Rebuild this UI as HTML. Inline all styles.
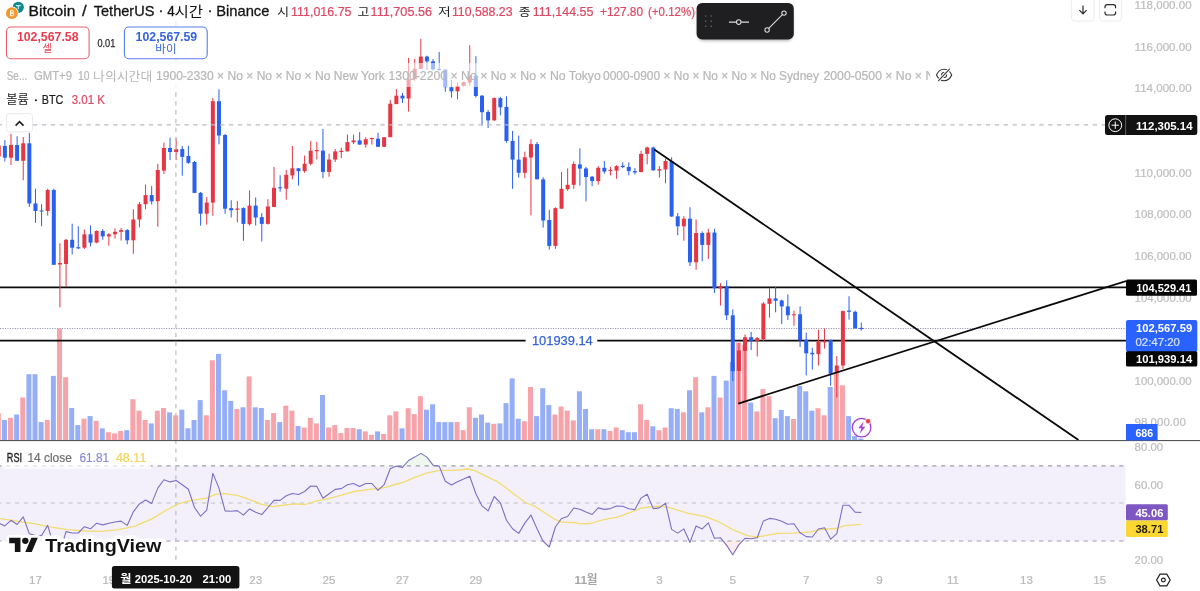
<!DOCTYPE html>
<html lang="ko">
<head>
<meta charset="utf-8">
<title>BTCUSDT 4h - TradingView</title>
<style>
html,body{margin:0;padding:0;background:#fff;}
body{width:1200px;height:591px;overflow:hidden;position:relative;font-family:"Liberation Sans","Noto Sans CJK KR",sans-serif;}
#chart{position:absolute;left:0;top:0;width:1200px;height:591px;display:block;}
#wrap{position:absolute;left:0;top:0;width:1200px;height:591px;will-change:transform;}
#chart text{font-family:"Liberation Sans","Noto Sans CJK KR",sans-serif;white-space:pre;}
</style>
</head>
<body>
<div id="wrap">
<svg id="chart" width="1200" height="591" viewBox="0 0 1200 591">
<defs><filter id="blur" x="-20%" y="-30%" width="140%" height="170%"><feGaussianBlur stdDeviation="1.6"/></filter><filter id="gs" filterUnits="userSpaceOnUse" x="0" y="0" width="1200" height="591"><feOffset dx="0" dy="0"/></filter><clipPath id="legclip"><rect x="150" y="60" width="780.3" height="30"/></clipPath>
<clipPath id="plot"><rect x="0" y="0" width="1126" height="566"/></clipPath></defs>
<rect width="1200" height="591" fill="#fff"/>
<g clip-path="url(#plot)">
<rect x="0" y="466" width="1125.5" height="75" fill="#f3f0fb"/>
<line x1="0" y1="465.8" x2="1125.5" y2="465.8" stroke="#9e9eaa" stroke-width="1.15" stroke-dasharray="4.2 4.705" stroke-dashoffset="-6.1"/>
<line x1="0" y1="503" x2="1125.5" y2="503" stroke="#bfbfca" stroke-width="1.15" stroke-dasharray="4.2 4.705" stroke-dashoffset="-6.1"/>
<line x1="0" y1="541" x2="1125.5" y2="541" stroke="#9e9eaa" stroke-width="1.15" stroke-dasharray="4.2 4.705" stroke-dashoffset="-6.1"/>
<g id="volume">
<rect x="-4.2" y="413.1" width="5" height="27.1" fill="#f7a3aa"/>
<rect x="1.92" y="420" width="5" height="20.2" fill="#95aef6"/>
<rect x="8.04" y="417.8" width="5" height="22.4" fill="#f7a3aa"/>
<rect x="14.15" y="414.5" width="5" height="25.7" fill="#95aef6"/>
<rect x="20.27" y="397.5" width="5" height="42.7" fill="#f7a3aa"/>
<rect x="26.39" y="374.2" width="5" height="66" fill="#95aef6"/>
<rect x="32.51" y="374.2" width="5" height="66" fill="#95aef6"/>
<rect x="38.62" y="422.1" width="5" height="18.1" fill="#95aef6"/>
<rect x="44.74" y="420" width="5" height="20.2" fill="#f7a3aa"/>
<rect x="50.86" y="375.9" width="5" height="64.3" fill="#95aef6"/>
<rect x="56.97" y="328.6" width="5" height="111.6" fill="#f7a3aa"/>
<rect x="63.09" y="377.2" width="5" height="63" fill="#f7a3aa"/>
<rect x="69.21" y="408" width="5" height="32.2" fill="#95aef6"/>
<rect x="75.32" y="425.1" width="5" height="15.1" fill="#95aef6"/>
<rect x="81.44" y="418.7" width="5" height="21.5" fill="#f7a3aa"/>
<rect x="87.56" y="416.1" width="5" height="24.1" fill="#95aef6"/>
<rect x="93.67" y="420.9" width="5" height="19.3" fill="#f7a3aa"/>
<rect x="99.79" y="428.3" width="5" height="11.9" fill="#95aef6"/>
<rect x="105.91" y="432.2" width="5" height="8" fill="#f7a3aa"/>
<rect x="112.03" y="433.4" width="5" height="6.8" fill="#f7a3aa"/>
<rect x="118.14" y="431" width="5" height="9.2" fill="#f7a3aa"/>
<rect x="124.26" y="430.2" width="5" height="10" fill="#95aef6"/>
<rect x="130.38" y="399.2" width="5" height="41" fill="#f7a3aa"/>
<rect x="136.49" y="410.7" width="5" height="29.5" fill="#f7a3aa"/>
<rect x="142.61" y="420" width="5" height="20.2" fill="#f7a3aa"/>
<rect x="148.73" y="423.4" width="5" height="16.8" fill="#95aef6"/>
<rect x="154.84" y="410.7" width="5" height="29.5" fill="#f7a3aa"/>
<rect x="160.96" y="408" width="5" height="32.2" fill="#f7a3aa"/>
<rect x="167.08" y="412.3" width="5" height="27.9" fill="#95aef6"/>
<rect x="173.2" y="415.3" width="5" height="24.9" fill="#f7a3aa"/>
<rect x="179.31" y="409.7" width="5" height="30.5" fill="#95aef6"/>
<rect x="185.43" y="428.3" width="5" height="11.9" fill="#95aef6"/>
<rect x="191.55" y="420" width="5" height="20.2" fill="#95aef6"/>
<rect x="197.66" y="400.1" width="5" height="40.1" fill="#95aef6"/>
<rect x="203.78" y="415.3" width="5" height="24.9" fill="#f7a3aa"/>
<rect x="209.9" y="360.3" width="5" height="79.9" fill="#f7a3aa"/>
<rect x="216.02" y="353.9" width="5" height="86.3" fill="#95aef6"/>
<rect x="222.13" y="390.3" width="5" height="49.9" fill="#95aef6"/>
<rect x="228.25" y="400.9" width="5" height="39.3" fill="#95aef6"/>
<rect x="234.37" y="409" width="5" height="31.2" fill="#f7a3aa"/>
<rect x="240.48" y="407.3" width="5" height="32.9" fill="#95aef6"/>
<rect x="246.6" y="376.4" width="5" height="63.8" fill="#f7a3aa"/>
<rect x="252.72" y="407.3" width="5" height="32.9" fill="#95aef6"/>
<rect x="258.83" y="408" width="5" height="32.2" fill="#95aef6"/>
<rect x="264.95" y="420" width="5" height="20.2" fill="#f7a3aa"/>
<rect x="271.07" y="413.1" width="5" height="27.1" fill="#f7a3aa"/>
<rect x="277.19" y="422.1" width="5" height="18.1" fill="#95aef6"/>
<rect x="283.3" y="405.7" width="5" height="34.5" fill="#f7a3aa"/>
<rect x="289.42" y="410.6" width="5" height="29.6" fill="#f7a3aa"/>
<rect x="295.54" y="426" width="5" height="14.2" fill="#95aef6"/>
<rect x="301.65" y="427.5" width="5" height="12.7" fill="#f7a3aa"/>
<rect x="307.77" y="417.8" width="5" height="22.4" fill="#f7a3aa"/>
<rect x="313.89" y="423.4" width="5" height="16.8" fill="#f7a3aa"/>
<rect x="320" y="395" width="5" height="45.2" fill="#95aef6"/>
<rect x="326.12" y="427.5" width="5" height="12.7" fill="#f7a3aa"/>
<rect x="332.24" y="425.1" width="5" height="15.1" fill="#f7a3aa"/>
<rect x="338.35" y="433.1" width="5" height="7.1" fill="#f7a3aa"/>
<rect x="344.47" y="428" width="5" height="12.2" fill="#f7a3aa"/>
<rect x="350.59" y="428" width="5" height="12.2" fill="#f7a3aa"/>
<rect x="356.71" y="429.2" width="5" height="11" fill="#95aef6"/>
<rect x="362.82" y="431.4" width="5" height="8.8" fill="#f7a3aa"/>
<rect x="368.94" y="434.8" width="5" height="5.4" fill="#f7a3aa"/>
<rect x="375.06" y="431.4" width="5" height="8.8" fill="#95aef6"/>
<rect x="381.17" y="433.9" width="5" height="6.3" fill="#f7a3aa"/>
<rect x="387.29" y="415.3" width="5" height="24.9" fill="#f7a3aa"/>
<rect x="393.41" y="411.4" width="5" height="28.8" fill="#f7a3aa"/>
<rect x="399.53" y="428.3" width="5" height="11.9" fill="#95aef6"/>
<rect x="405.64" y="408.2" width="5" height="32" fill="#f7a3aa"/>
<rect x="411.76" y="414.1" width="5" height="26.1" fill="#f7a3aa"/>
<rect x="417.88" y="396.2" width="5" height="44" fill="#f7a3aa"/>
<rect x="423.99" y="409.7" width="5" height="30.5" fill="#95aef6"/>
<rect x="430.11" y="404.3" width="5" height="35.9" fill="#95aef6"/>
<rect x="436.23" y="422.1" width="5" height="18.1" fill="#95aef6"/>
<rect x="442.34" y="422.1" width="5" height="18.1" fill="#95aef6"/>
<rect x="448.46" y="422.1" width="5" height="18.1" fill="#95aef6"/>
<rect x="454.58" y="422.1" width="5" height="18.1" fill="#f7a3aa"/>
<rect x="460.69" y="430.2" width="5" height="10" fill="#f7a3aa"/>
<rect x="466.81" y="407.3" width="5" height="32.9" fill="#f7a3aa"/>
<rect x="472.93" y="417.8" width="5" height="22.4" fill="#95aef6"/>
<rect x="479.05" y="414.5" width="5" height="25.7" fill="#95aef6"/>
<rect x="485.16" y="422.6" width="5" height="17.6" fill="#95aef6"/>
<rect x="491.28" y="423.8" width="5" height="16.4" fill="#f7a3aa"/>
<rect x="497.4" y="423.4" width="5" height="16.8" fill="#95aef6"/>
<rect x="503.51" y="403.1" width="5" height="37.1" fill="#95aef6"/>
<rect x="509.63" y="378.4" width="5" height="61.8" fill="#95aef6"/>
<rect x="515.75" y="418.7" width="5" height="21.5" fill="#95aef6"/>
<rect x="521.87" y="421.2" width="5" height="19" fill="#f7a3aa"/>
<rect x="527.98" y="387" width="5" height="53.2" fill="#f7a3aa"/>
<rect x="534.1" y="416.1" width="5" height="24.1" fill="#95aef6"/>
<rect x="540.22" y="388.2" width="5" height="52" fill="#95aef6"/>
<rect x="546.33" y="405.1" width="5" height="35.1" fill="#95aef6"/>
<rect x="552.45" y="414.5" width="5" height="25.7" fill="#f7a3aa"/>
<rect x="558.57" y="406.5" width="5" height="33.7" fill="#f7a3aa"/>
<rect x="564.68" y="410.6" width="5" height="29.6" fill="#f7a3aa"/>
<rect x="570.8" y="420.4" width="5" height="19.8" fill="#f7a3aa"/>
<rect x="576.92" y="391.3" width="5" height="48.9" fill="#95aef6"/>
<rect x="583.03" y="409" width="5" height="31.2" fill="#95aef6"/>
<rect x="589.15" y="429.2" width="5" height="11" fill="#95aef6"/>
<rect x="595.27" y="429.2" width="5" height="11" fill="#f7a3aa"/>
<rect x="601.39" y="429.2" width="5" height="11" fill="#95aef6"/>
<rect x="607.5" y="431" width="5" height="9.2" fill="#f7a3aa"/>
<rect x="613.62" y="427.5" width="5" height="12.7" fill="#f7a3aa"/>
<rect x="619.74" y="430.2" width="5" height="10" fill="#95aef6"/>
<rect x="625.85" y="432.2" width="5" height="8" fill="#95aef6"/>
<rect x="631.97" y="432.2" width="5" height="8" fill="#95aef6"/>
<rect x="638.09" y="404.3" width="5" height="35.9" fill="#f7a3aa"/>
<rect x="644.2" y="420" width="5" height="20.2" fill="#f7a3aa"/>
<rect x="650.32" y="426.3" width="5" height="13.9" fill="#95aef6"/>
<rect x="656.44" y="430.2" width="5" height="10" fill="#f7a3aa"/>
<rect x="662.56" y="427.5" width="5" height="12.7" fill="#f7a3aa"/>
<rect x="668.67" y="408.2" width="5" height="32" fill="#95aef6"/>
<rect x="674.79" y="408.9" width="5" height="31.3" fill="#95aef6"/>
<rect x="680.91" y="412.3" width="5" height="27.9" fill="#f7a3aa"/>
<rect x="687.02" y="390.3" width="5" height="49.9" fill="#95aef6"/>
<rect x="693.14" y="377.2" width="5" height="63" fill="#f7a3aa"/>
<rect x="699.26" y="412.3" width="5" height="27.9" fill="#95aef6"/>
<rect x="705.38" y="407.3" width="5" height="32.9" fill="#f7a3aa"/>
<rect x="711.49" y="375.9" width="5" height="64.3" fill="#95aef6"/>
<rect x="717.61" y="397.5" width="5" height="42.7" fill="#f7a3aa"/>
<rect x="723.73" y="380.6" width="5" height="59.6" fill="#95aef6"/>
<rect x="729.84" y="362" width="5" height="78.2" fill="#95aef6"/>
<rect x="735.96" y="342.5" width="5" height="97.7" fill="#f7a3aa"/>
<rect x="742.08" y="345" width="5" height="95.2" fill="#f7a3aa"/>
<rect x="748.19" y="402.6" width="5" height="37.6" fill="#95aef6"/>
<rect x="754.31" y="411.4" width="5" height="28.8" fill="#f7a3aa"/>
<rect x="760.43" y="389.1" width="5" height="51.1" fill="#f7a3aa"/>
<rect x="766.54" y="396.2" width="5" height="44" fill="#f7a3aa"/>
<rect x="772.66" y="418.2" width="5" height="22" fill="#95aef6"/>
<rect x="778.78" y="409.9" width="5" height="30.3" fill="#95aef6"/>
<rect x="784.9" y="416.1" width="5" height="24.1" fill="#95aef6"/>
<rect x="791.01" y="419" width="5" height="21.2" fill="#f7a3aa"/>
<rect x="797.13" y="386" width="5" height="54.2" fill="#95aef6"/>
<rect x="803.25" y="391.3" width="5" height="48.9" fill="#95aef6"/>
<rect x="809.36" y="410.7" width="5" height="29.5" fill="#95aef6"/>
<rect x="815.48" y="408.2" width="5" height="32" fill="#f7a3aa"/>
<rect x="821.6" y="415.3" width="5" height="24.9" fill="#f7a3aa"/>
<rect x="827.71" y="387" width="5" height="53.2" fill="#95aef6"/>
<rect x="833.83" y="372" width="5" height="68.2" fill="#f7a3aa"/>
<rect x="839.95" y="385.3" width="5" height="54.9" fill="#f7a3aa"/>
<rect x="846.07" y="416.1" width="5" height="24.1" fill="#95aef6"/>
<rect x="852.18" y="436" width="5" height="4.2" fill="#95aef6"/>
<rect x="858.3" y="438.5" width="5" height="1.7" fill="#95aef6"/>
</g>
<g stroke="#0a0a0a" stroke-width="1.8" fill="none">
<line x1="0" y1="287.3" x2="1126" y2="287.3"/>
<line x1="0" y1="340.6" x2="525.6" y2="340.6"/>
<line x1="597.3" y1="340.6" x2="1126" y2="340.6"/>
</g>
<line x1="0" y1="328.5" x2="1126" y2="328.5" stroke="#8e92a9" stroke-width="1" stroke-dasharray="1.1 1.38"/>
<g id="candles">
<rect x="-1.75" y="140" width="1" height="20" fill="#e53644"/>
<rect x="-3.25" y="145.5" width="4" height="11" fill="#e53644"/>
<rect x="4.37" y="140.1" width="1" height="21.5" fill="#2a60ee"/>
<rect x="2.87" y="145.9" width="4" height="11.8" fill="#2a60ee"/>
<rect x="10.49" y="133.7" width="1" height="31.3" fill="#e53644"/>
<rect x="8.99" y="145" width="4" height="12.7" fill="#e53644"/>
<rect x="16.6" y="136.2" width="1" height="24.6" fill="#2a60ee"/>
<rect x="15.1" y="145" width="4" height="15.8" fill="#2a60ee"/>
<rect x="22.72" y="137" width="1" height="43.2" fill="#e53644"/>
<rect x="21.22" y="143.3" width="4" height="17.5" fill="#e53644"/>
<rect x="28.84" y="132.8" width="1" height="74" fill="#2a60ee"/>
<rect x="27.34" y="143.3" width="4" height="60.2" fill="#2a60ee"/>
<rect x="34.96" y="188.7" width="1" height="34.1" fill="#2a60ee"/>
<rect x="33.46" y="203.4" width="4" height="7.6" fill="#2a60ee"/>
<rect x="41.07" y="204.2" width="1" height="22" fill="#2a60ee"/>
<rect x="39.57" y="210.5" width="4" height="1" fill="#2a60ee"/>
<rect x="47.19" y="188.7" width="1" height="26.9" fill="#e53644"/>
<rect x="45.69" y="190" width="4" height="21" fill="#e53644"/>
<rect x="53.31" y="188.7" width="1" height="76.1" fill="#2a60ee"/>
<rect x="51.81" y="190" width="4" height="74.8" fill="#2a60ee"/>
<rect x="59.42" y="243.1" width="1" height="64.3" fill="#e53644"/>
<rect x="57.92" y="263" width="4" height="1.5" fill="#e53644"/>
<rect x="65.54" y="239" width="1" height="47.8" fill="#e53644"/>
<rect x="64.04" y="239.8" width="4" height="24.2" fill="#e53644"/>
<rect x="71.66" y="223.7" width="1" height="30.8" fill="#2a60ee"/>
<rect x="70.16" y="239.8" width="4" height="7.9" fill="#2a60ee"/>
<rect x="77.77" y="226.2" width="1" height="22.8" fill="#2a60ee"/>
<rect x="76.27" y="247.2" width="4" height="1.2" fill="#2a60ee"/>
<rect x="83.89" y="229.6" width="1" height="19.4" fill="#e53644"/>
<rect x="82.39" y="234.3" width="4" height="13.4" fill="#e53644"/>
<rect x="90.01" y="225.4" width="1" height="21.1" fill="#2a60ee"/>
<rect x="88.51" y="234.3" width="4" height="8.3" fill="#2a60ee"/>
<rect x="96.12" y="230.4" width="1" height="12.8" fill="#e53644"/>
<rect x="94.62" y="231" width="4" height="11.6" fill="#e53644"/>
<rect x="102.24" y="229.1" width="1" height="10.7" fill="#2a60ee"/>
<rect x="100.74" y="231" width="4" height="5.4" fill="#2a60ee"/>
<rect x="108.36" y="233" width="1" height="12.7" fill="#e53644"/>
<rect x="106.86" y="234.3" width="4" height="2.1" fill="#e53644"/>
<rect x="114.48" y="228.4" width="1" height="10.2" fill="#e53644"/>
<rect x="112.98" y="231.8" width="4" height="2.5" fill="#e53644"/>
<rect x="120.59" y="228" width="1" height="12.6" fill="#e53644"/>
<rect x="119.09" y="230.1" width="4" height="1.7" fill="#e53644"/>
<rect x="126.71" y="229.1" width="1" height="15.2" fill="#2a60ee"/>
<rect x="125.21" y="230.1" width="4" height="10.2" fill="#2a60ee"/>
<rect x="132.83" y="209.3" width="1" height="44.5" fill="#e53644"/>
<rect x="131.33" y="219.5" width="4" height="20.8" fill="#e53644"/>
<rect x="138.94" y="202" width="1" height="25.4" fill="#e53644"/>
<rect x="137.44" y="204.2" width="4" height="15.3" fill="#e53644"/>
<rect x="145.06" y="184.5" width="1" height="24.8" fill="#e53644"/>
<rect x="143.56" y="195.1" width="4" height="9.1" fill="#e53644"/>
<rect x="151.18" y="186.1" width="1" height="18.4" fill="#2a60ee"/>
<rect x="149.68" y="195.1" width="4" height="6.3" fill="#2a60ee"/>
<rect x="157.29" y="163.8" width="1" height="62.9" fill="#e53644"/>
<rect x="155.79" y="170" width="4" height="31.2" fill="#e53644"/>
<rect x="163.41" y="142.7" width="1" height="31.3" fill="#e53644"/>
<rect x="161.91" y="148" width="4" height="22.6" fill="#e53644"/>
<rect x="169.53" y="137.6" width="1" height="22.4" fill="#2a60ee"/>
<rect x="168.03" y="148" width="4" height="4" fill="#2a60ee"/>
<rect x="175.65" y="138" width="1" height="22" fill="#e53644"/>
<rect x="174.15" y="149" width="4" height="3" fill="#e53644"/>
<rect x="181.76" y="145.9" width="1" height="29.8" fill="#2a60ee"/>
<rect x="180.26" y="149" width="4" height="7.9" fill="#2a60ee"/>
<rect x="187.88" y="145.9" width="1" height="17.9" fill="#2a60ee"/>
<rect x="186.38" y="156" width="4" height="6.8" fill="#2a60ee"/>
<rect x="194" y="161" width="1" height="31.9" fill="#2a60ee"/>
<rect x="192.5" y="162" width="4" height="30.9" fill="#2a60ee"/>
<rect x="200.11" y="192" width="1" height="33.6" fill="#2a60ee"/>
<rect x="198.61" y="192.9" width="4" height="20.8" fill="#2a60ee"/>
<rect x="206.23" y="197.1" width="1" height="27.5" fill="#e53644"/>
<rect x="204.73" y="202.6" width="4" height="11.1" fill="#e53644"/>
<rect x="212.35" y="97.8" width="1" height="118" fill="#e53644"/>
<rect x="210.85" y="101.2" width="4" height="101.4" fill="#e53644"/>
<rect x="218.47" y="89.3" width="1" height="55" fill="#2a60ee"/>
<rect x="216.97" y="101.2" width="4" height="34.3" fill="#2a60ee"/>
<rect x="224.58" y="134" width="1" height="79.7" fill="#2a60ee"/>
<rect x="223.08" y="135" width="4" height="73.7" fill="#2a60ee"/>
<rect x="230.7" y="200.2" width="1" height="17.3" fill="#2a60ee"/>
<rect x="229.2" y="208.1" width="4" height="2.2" fill="#2a60ee"/>
<rect x="236.82" y="200.9" width="1" height="21.6" fill="#e53644"/>
<rect x="235.32" y="208.5" width="4" height="1.3" fill="#e53644"/>
<rect x="242.93" y="207.3" width="1" height="33.5" fill="#2a60ee"/>
<rect x="241.43" y="208.1" width="4" height="15.8" fill="#2a60ee"/>
<rect x="249.05" y="190.4" width="1" height="35" fill="#e53644"/>
<rect x="247.55" y="205.6" width="4" height="18.6" fill="#e53644"/>
<rect x="255.17" y="197.5" width="1" height="28.1" fill="#2a60ee"/>
<rect x="253.67" y="205.6" width="4" height="11.9" fill="#2a60ee"/>
<rect x="261.28" y="213.2" width="1" height="28.3" fill="#2a60ee"/>
<rect x="259.78" y="217.1" width="4" height="6.8" fill="#2a60ee"/>
<rect x="267.4" y="199.2" width="1" height="25.4" fill="#e53644"/>
<rect x="265.9" y="206.5" width="4" height="17.4" fill="#e53644"/>
<rect x="273.52" y="167" width="1" height="40" fill="#e53644"/>
<rect x="272.02" y="187.8" width="4" height="19.2" fill="#e53644"/>
<rect x="279.63" y="175.2" width="1" height="16.5" fill="#2a60ee"/>
<rect x="278.13" y="187.3" width="4" height="1.1" fill="#2a60ee"/>
<rect x="285.75" y="170" width="1" height="29.7" fill="#e53644"/>
<rect x="284.25" y="174.8" width="4" height="13.9" fill="#e53644"/>
<rect x="291.87" y="146" width="1" height="33.4" fill="#e53644"/>
<rect x="290.37" y="168.3" width="4" height="7.1" fill="#e53644"/>
<rect x="297.99" y="168" width="1" height="17.6" fill="#2a60ee"/>
<rect x="296.49" y="168.3" width="4" height="2.9" fill="#2a60ee"/>
<rect x="304.1" y="155.6" width="1" height="17.2" fill="#e53644"/>
<rect x="302.6" y="163.8" width="4" height="7.4" fill="#e53644"/>
<rect x="310.22" y="140.9" width="1" height="24.5" fill="#e53644"/>
<rect x="308.72" y="150.7" width="4" height="13.1" fill="#e53644"/>
<rect x="316.34" y="141.8" width="1" height="17.7" fill="#e53644"/>
<rect x="314.84" y="150" width="4" height="1.2" fill="#e53644"/>
<rect x="322.45" y="129" width="1" height="49.3" fill="#2a60ee"/>
<rect x="320.95" y="150.7" width="4" height="21.2" fill="#2a60ee"/>
<rect x="328.57" y="153.6" width="1" height="23.2" fill="#e53644"/>
<rect x="327.07" y="159.5" width="4" height="12.4" fill="#e53644"/>
<rect x="334.69" y="149" width="1" height="13" fill="#e53644"/>
<rect x="333.19" y="151.4" width="4" height="8.1" fill="#e53644"/>
<rect x="340.8" y="147.7" width="1" height="10.5" fill="#e53644"/>
<rect x="339.3" y="150.8" width="4" height="1.2" fill="#e53644"/>
<rect x="346.92" y="134.5" width="1" height="16.9" fill="#e53644"/>
<rect x="345.42" y="142.1" width="4" height="9.3" fill="#e53644"/>
<rect x="353.04" y="134.5" width="1" height="9.5" fill="#e53644"/>
<rect x="351.54" y="140.4" width="4" height="1.9" fill="#e53644"/>
<rect x="359.16" y="132.1" width="1" height="12.5" fill="#2a60ee"/>
<rect x="357.66" y="140.4" width="4" height="4.2" fill="#2a60ee"/>
<rect x="365.27" y="137.2" width="1" height="10.5" fill="#e53644"/>
<rect x="363.77" y="139.2" width="4" height="5.4" fill="#e53644"/>
<rect x="371.39" y="137.9" width="1" height="6.7" fill="#e53644"/>
<rect x="369.89" y="137.95" width="4" height="1.2" fill="#e53644"/>
<rect x="377.51" y="132.8" width="1" height="14" fill="#2a60ee"/>
<rect x="376.01" y="138.7" width="4" height="8.1" fill="#2a60ee"/>
<rect x="383.62" y="137.2" width="1" height="9.6" fill="#e53644"/>
<rect x="382.12" y="137.2" width="4" height="9.6" fill="#e53644"/>
<rect x="389.74" y="100" width="1" height="37.2" fill="#e53644"/>
<rect x="388.24" y="103.7" width="4" height="33.5" fill="#e53644"/>
<rect x="395.86" y="89.2" width="1" height="14.9" fill="#e53644"/>
<rect x="394.36" y="95.7" width="4" height="8.4" fill="#e53644"/>
<rect x="401.98" y="93.1" width="1" height="10" fill="#2a60ee"/>
<rect x="400.48" y="95.7" width="4" height="2.8" fill="#2a60ee"/>
<rect x="408.09" y="57.9" width="1" height="53.7" fill="#e53644"/>
<rect x="406.59" y="79.1" width="4" height="19.4" fill="#e53644"/>
<rect x="414.21" y="59.1" width="1" height="21.7" fill="#e53644"/>
<rect x="412.71" y="68.9" width="4" height="10.2" fill="#e53644"/>
<rect x="420.33" y="38.8" width="1" height="30.1" fill="#e53644"/>
<rect x="418.83" y="56.6" width="4" height="12.3" fill="#e53644"/>
<rect x="426.44" y="55.7" width="1" height="14.1" fill="#2a60ee"/>
<rect x="424.94" y="56.6" width="4" height="4.7" fill="#2a60ee"/>
<rect x="432.56" y="59.1" width="1" height="11.5" fill="#2a60ee"/>
<rect x="431.06" y="61.3" width="4" height="8" fill="#2a60ee"/>
<rect x="438.68" y="52" width="1" height="18.6" fill="#2a60ee"/>
<rect x="437.18" y="69" width="4" height="1" fill="#2a60ee"/>
<rect x="444.79" y="69" width="1" height="22.8" fill="#2a60ee"/>
<rect x="443.29" y="69.8" width="4" height="17.4" fill="#2a60ee"/>
<rect x="450.91" y="79.9" width="1" height="17.8" fill="#2a60ee"/>
<rect x="449.41" y="87.2" width="4" height="4.1" fill="#2a60ee"/>
<rect x="457.03" y="82.5" width="1" height="16.9" fill="#e53644"/>
<rect x="455.53" y="85.8" width="4" height="5.5" fill="#e53644"/>
<rect x="463.14" y="81.5" width="1" height="5" fill="#e53644"/>
<rect x="461.64" y="82.1" width="4" height="3.7" fill="#e53644"/>
<rect x="469.26" y="45.2" width="1" height="40.6" fill="#e53644"/>
<rect x="467.76" y="75.7" width="4" height="6.8" fill="#e53644"/>
<rect x="475.38" y="56.2" width="1" height="41.5" fill="#2a60ee"/>
<rect x="473.88" y="75.7" width="4" height="20.3" fill="#2a60ee"/>
<rect x="481.5" y="95" width="1" height="30.5" fill="#2a60ee"/>
<rect x="480" y="95.7" width="4" height="16.5" fill="#2a60ee"/>
<rect x="487.61" y="110" width="1" height="18" fill="#2a60ee"/>
<rect x="486.11" y="112" width="4" height="8.4" fill="#2a60ee"/>
<rect x="493.73" y="97.5" width="1" height="23.3" fill="#e53644"/>
<rect x="492.23" y="98.1" width="4" height="22.3" fill="#e53644"/>
<rect x="499.85" y="96.8" width="1" height="18.5" fill="#2a60ee"/>
<rect x="498.35" y="98.1" width="4" height="9.2" fill="#2a60ee"/>
<rect x="505.96" y="96.3" width="1" height="46.4" fill="#2a60ee"/>
<rect x="504.46" y="106.9" width="4" height="34.1" fill="#2a60ee"/>
<rect x="512.08" y="130.9" width="1" height="57.9" fill="#2a60ee"/>
<rect x="510.58" y="141" width="4" height="18.6" fill="#2a60ee"/>
<rect x="518.2" y="135.6" width="1" height="42" fill="#2a60ee"/>
<rect x="516.7" y="159.6" width="4" height="13.2" fill="#2a60ee"/>
<rect x="524.32" y="151.7" width="1" height="26.5" fill="#e53644"/>
<rect x="522.82" y="157.3" width="4" height="15.5" fill="#e53644"/>
<rect x="530.43" y="139.3" width="1" height="76.1" fill="#e53644"/>
<rect x="528.93" y="144.1" width="4" height="13.4" fill="#e53644"/>
<rect x="536.55" y="142" width="1" height="37.3" fill="#2a60ee"/>
<rect x="535.05" y="144.1" width="4" height="35.2" fill="#2a60ee"/>
<rect x="542.67" y="177.2" width="1" height="50.4" fill="#2a60ee"/>
<rect x="541.17" y="179.4" width="4" height="41.1" fill="#2a60ee"/>
<rect x="548.78" y="209.8" width="1" height="39.8" fill="#2a60ee"/>
<rect x="547.28" y="220" width="4" height="25.9" fill="#2a60ee"/>
<rect x="554.9" y="207.3" width="1" height="41.5" fill="#e53644"/>
<rect x="553.4" y="208.1" width="4" height="37.8" fill="#e53644"/>
<rect x="561.02" y="171.9" width="1" height="36.8" fill="#e53644"/>
<rect x="559.52" y="188.8" width="4" height="19.9" fill="#e53644"/>
<rect x="567.13" y="168.5" width="1" height="22.1" fill="#e53644"/>
<rect x="565.63" y="184.8" width="4" height="4.4" fill="#e53644"/>
<rect x="573.25" y="161.5" width="1" height="27.3" fill="#e53644"/>
<rect x="571.75" y="164" width="4" height="20.8" fill="#e53644"/>
<rect x="579.37" y="148.3" width="1" height="37.2" fill="#2a60ee"/>
<rect x="577.87" y="164.4" width="4" height="4.2" fill="#2a60ee"/>
<rect x="585.49" y="167" width="1" height="34.4" fill="#2a60ee"/>
<rect x="583.99" y="168.5" width="4" height="8.5" fill="#2a60ee"/>
<rect x="591.6" y="176" width="1" height="10.3" fill="#2a60ee"/>
<rect x="590.1" y="176.7" width="4" height="4.3" fill="#2a60ee"/>
<rect x="597.72" y="166" width="1" height="18.7" fill="#e53644"/>
<rect x="596.22" y="167.8" width="4" height="13.2" fill="#e53644"/>
<rect x="603.84" y="161" width="1" height="12.7" fill="#2a60ee"/>
<rect x="602.34" y="167.8" width="4" height="3.7" fill="#2a60ee"/>
<rect x="609.95" y="166.9" width="1" height="8.5" fill="#e53644"/>
<rect x="608.45" y="170" width="4" height="1" fill="#e53644"/>
<rect x="616.07" y="165.2" width="1" height="13.6" fill="#e53644"/>
<rect x="614.57" y="166.1" width="4" height="4.5" fill="#e53644"/>
<rect x="622.19" y="162.3" width="1" height="5.8" fill="#2a60ee"/>
<rect x="620.69" y="165.85" width="4" height="1.2" fill="#2a60ee"/>
<rect x="628.3" y="162.3" width="1" height="13.1" fill="#2a60ee"/>
<rect x="626.8" y="166.9" width="4" height="4.2" fill="#2a60ee"/>
<rect x="634.42" y="168.1" width="1" height="6.4" fill="#2a60ee"/>
<rect x="632.92" y="171.1" width="4" height="1.4" fill="#2a60ee"/>
<rect x="640.54" y="150.8" width="1" height="21.7" fill="#e53644"/>
<rect x="639.04" y="153.9" width="4" height="18.1" fill="#e53644"/>
<rect x="646.65" y="146.6" width="1" height="17.8" fill="#e53644"/>
<rect x="645.15" y="147.5" width="4" height="6.4" fill="#e53644"/>
<rect x="652.77" y="146.6" width="1" height="24.2" fill="#2a60ee"/>
<rect x="651.27" y="147.5" width="4" height="22.8" fill="#2a60ee"/>
<rect x="658.89" y="166.1" width="1" height="11.5" fill="#e53644"/>
<rect x="657.39" y="169.1" width="4" height="1.4" fill="#e53644"/>
<rect x="665.01" y="158.5" width="1" height="24.8" fill="#e53644"/>
<rect x="663.51" y="161" width="4" height="8.5" fill="#e53644"/>
<rect x="671.12" y="157.3" width="1" height="59.6" fill="#2a60ee"/>
<rect x="669.62" y="161" width="4" height="55.5" fill="#2a60ee"/>
<rect x="677.24" y="213" width="1" height="22.2" fill="#2a60ee"/>
<rect x="675.74" y="216.3" width="4" height="10" fill="#2a60ee"/>
<rect x="683.36" y="216.2" width="1" height="24.5" fill="#e53644"/>
<rect x="681.86" y="218.7" width="4" height="7.6" fill="#e53644"/>
<rect x="689.47" y="207.2" width="1" height="58.8" fill="#2a60ee"/>
<rect x="687.97" y="218.7" width="4" height="43.6" fill="#2a60ee"/>
<rect x="695.59" y="219.5" width="1" height="50.3" fill="#e53644"/>
<rect x="694.09" y="233" width="4" height="29.3" fill="#e53644"/>
<rect x="701.71" y="231.4" width="1" height="29.9" fill="#2a60ee"/>
<rect x="700.21" y="233" width="4" height="11.9" fill="#2a60ee"/>
<rect x="707.83" y="228.8" width="1" height="30.2" fill="#e53644"/>
<rect x="706.33" y="232.6" width="4" height="12.3" fill="#e53644"/>
<rect x="713.94" y="228.8" width="1" height="64.2" fill="#2a60ee"/>
<rect x="712.44" y="232.6" width="4" height="55.6" fill="#2a60ee"/>
<rect x="720.06" y="283.1" width="1" height="22.4" fill="#e53644"/>
<rect x="718.56" y="286" width="4" height="2.5" fill="#e53644"/>
<rect x="726.18" y="280.3" width="1" height="39.7" fill="#2a60ee"/>
<rect x="724.68" y="286.2" width="4" height="29.1" fill="#2a60ee"/>
<rect x="732.29" y="309.3" width="1" height="71.7" fill="#2a60ee"/>
<rect x="730.79" y="315.3" width="4" height="55.9" fill="#2a60ee"/>
<rect x="738.41" y="343" width="1" height="60.7" fill="#e53644"/>
<rect x="736.91" y="350.4" width="4" height="20.6" fill="#e53644"/>
<rect x="744.53" y="334.5" width="1" height="67.5" fill="#e53644"/>
<rect x="743.03" y="337.2" width="4" height="13.8" fill="#e53644"/>
<rect x="750.64" y="332" width="1" height="18.1" fill="#2a60ee"/>
<rect x="749.14" y="337.2" width="4" height="3.8" fill="#2a60ee"/>
<rect x="756.76" y="337" width="1" height="19.5" fill="#e53644"/>
<rect x="755.26" y="338.1" width="4" height="2.9" fill="#e53644"/>
<rect x="762.88" y="302.1" width="1" height="38.9" fill="#e53644"/>
<rect x="761.38" y="303.5" width="4" height="35.9" fill="#e53644"/>
<rect x="769" y="287.8" width="1" height="29.9" fill="#e53644"/>
<rect x="767.5" y="298.4" width="4" height="5.4" fill="#e53644"/>
<rect x="775.11" y="286.9" width="1" height="25.4" fill="#2a60ee"/>
<rect x="773.61" y="298.4" width="4" height="2.4" fill="#2a60ee"/>
<rect x="781.23" y="299.6" width="1" height="24.5" fill="#2a60ee"/>
<rect x="779.73" y="300.5" width="4" height="5.9" fill="#2a60ee"/>
<rect x="787.35" y="294.5" width="1" height="25.5" fill="#2a60ee"/>
<rect x="785.85" y="306.4" width="4" height="8.9" fill="#2a60ee"/>
<rect x="793.46" y="310.6" width="1" height="15.2" fill="#e53644"/>
<rect x="791.96" y="314.3" width="4" height="1" fill="#e53644"/>
<rect x="799.58" y="306.4" width="1" height="40.5" fill="#2a60ee"/>
<rect x="798.08" y="314.3" width="4" height="25.9" fill="#2a60ee"/>
<rect x="805.7" y="332.6" width="1" height="42.9" fill="#2a60ee"/>
<rect x="804.2" y="339.7" width="4" height="13.6" fill="#2a60ee"/>
<rect x="811.81" y="347.7" width="1" height="21.9" fill="#2a60ee"/>
<rect x="810.31" y="352.8" width="4" height="1.5" fill="#2a60ee"/>
<rect x="817.93" y="329.6" width="1" height="35.9" fill="#e53644"/>
<rect x="816.43" y="341.9" width="4" height="12.2" fill="#e53644"/>
<rect x="824.05" y="328.4" width="1" height="20.2" fill="#e53644"/>
<rect x="822.55" y="341" width="4" height="1.4" fill="#e53644"/>
<rect x="830.16" y="339.4" width="1" height="46.3" fill="#2a60ee"/>
<rect x="828.66" y="340.2" width="4" height="33.6" fill="#2a60ee"/>
<rect x="836.28" y="356" width="1" height="41.5" fill="#e53644"/>
<rect x="834.78" y="365.5" width="4" height="7.5" fill="#e53644"/>
<rect x="842.4" y="310.6" width="1" height="58.3" fill="#e53644"/>
<rect x="840.9" y="311.1" width="4" height="54.4" fill="#e53644"/>
<rect x="848.52" y="296.2" width="1" height="23.4" fill="#2a60ee"/>
<rect x="847.02" y="310.6" width="4" height="1.2" fill="#2a60ee"/>
<rect x="854.63" y="310.6" width="1" height="18" fill="#2a60ee"/>
<rect x="853.13" y="311.8" width="4" height="16.6" fill="#2a60ee"/>
<rect x="860.75" y="322.5" width="1" height="8.1" fill="#2a60ee"/>
<rect x="859.25" y="327.85" width="4" height="1.2" fill="#2a60ee"/>
</g>
<g stroke="#0a0a0a" stroke-width="1.8" fill="none" stroke-linecap="butt">
<line x1="654.3" y1="149.5" x2="1078.5" y2="440"/>
<line x1="738.3" y1="403.6" x2="1126" y2="281"/>
</g>
<g stroke="#bbbcc3" stroke-width="1.2" stroke-dasharray="4.4 4.505" fill="none">
<line x1="175.9" y1="89" x2="175.9" y2="561" stroke-dashoffset="-3.25"/>
<line x1="175.9" y1="-1" x2="175.9" y2="89" stroke-opacity="0.3" stroke-dashoffset="-4.2"/>
<line x1="0" y1="124.8" x2="1105" y2="124.8" stroke-dashoffset="-6.3"/>
</g>
<polyline points="-2,518.4 0,518.6 16.9,521.1 33.8,523.7 50.8,527.1 67.7,529.6 84.6,531 101.5,531.3 118.4,529.6 135.4,526.2 152.3,518.6 169.2,508.5 177.7,504.2 186.1,501.7 195,499.8 206.9,498.2 215.4,494.3 223.8,493.7 237.4,495.3 249.2,499.4 261.1,504.1 272.9,506.7 284.8,505 294.9,503.8 305.1,504.5 316.9,500.8 328.7,498.6 342.3,494.8 354.1,491.5 366,489.8 376.1,488.6 385,487.4 391.8,485.5 403.7,482.1 415.5,477.1 427.4,472.8 439.2,470.3 451.1,470.3 459.5,470 468,469 474.8,470.6 484.9,475.7 496.8,481.3 505.2,487.2 515.4,495.3 525.5,502.5 535.7,506.7 545.8,513.5 554.3,519 561,521.9 566.1,522.4 574.6,522.5 580.2,523.8 590.3,523.5 603.8,519.6 617.4,517.2 629.2,512.8 641.1,508.2 649.5,507 661.4,506 671.5,508.2 688.4,513.3 705.4,516.7 718.9,521.8 732.4,529.4 744.3,534.4 748.5,535.8 756.9,537 767.1,535.3 777.2,533.3 794.1,533.1 811.1,531.9 821.2,529.4 836.4,528.5 844.9,525.7 860.8,524.3" fill="none" stroke="#f3dc70" stroke-width="1.3" stroke-linejoin="round"/>
<polyline points="-1.25,523 4.87,525.9 10.99,520.3 17.1,524.5 23.22,516.9 29.34,533.8 35.46,535.5 41.57,535.5 47.69,525.4 53.81,546 59.92,552 66.04,531.6 72.16,533 78.27,533 84.39,526.7 90.51,528.8 96.62,523.2 102.74,524.9 108.86,523.2 114.98,522 121.09,521.1 127.21,525.4 133.33,511.8 139.44,503.9 145.56,500 151.68,503.4 157.79,488.1 163.91,479.7 170.03,481.9 176.15,480.5 182.26,484.8 188.38,489.3 194.5,507.5 200.61,516.2 206.73,510.1 212.85,473.4 218.97,488.1 225.08,510.9 231.2,511.3 237.32,510.6 243.43,515.1 249.55,508.9 255.67,512.3 261.78,514.6 267.9,507.5 274.02,500.4 280.13,500.4 286.25,495.7 292.37,493.5 298.49,494.5 304.6,491.5 310.72,486 316.84,486.4 322.95,498.2 329.07,493.7 335.19,489.4 341.3,488.6 347.42,484.7 353.54,483.5 359.66,486.4 365.77,483.5 371.89,483.5 378.01,490.3 384.12,484.7 390.24,468.8 396.36,466.1 402.48,467.4 408.59,460.5 414.71,457.1 420.83,453.4 426.94,457.1 433.06,465.2 439.18,466.1 445.29,481.3 451.41,485 457.53,481.8 463.64,479.1 469.76,476.2 475.88,493.7 482,505.8 488.11,510.9 494.23,496.5 500.35,502.8 506.46,520.2 512.58,528.7 518.7,533.4 524.82,523.1 530.93,515.1 537.05,528.7 543.17,541.4 549.28,547 555.4,527 561.52,518.5 567.63,516.5 573.75,508 579.87,509.2 585.99,512.1 592.1,514.5 598.22,507.9 604.34,509.4 610.45,508.6 616.57,506 622.69,506.2 628.8,508.7 634.92,509.6 641.04,498.1 647.15,494.3 653.27,508.6 659.39,507.9 665.51,503.1 671.62,529.4 677.74,533.1 683.86,528.9 689.97,542.4 696.09,526 702.21,528.9 708.33,522.9 714.44,538.3 720.56,537.8 726.68,545.4 732.79,554.8 738.91,544.6 745.03,538.3 751.14,538.7 757.26,537.8 763.38,520.9 769.5,518.4 775.61,519.2 781.73,521.3 787.85,524.3 793.96,523.8 800.08,532.8 806.2,536.6 812.31,537 818.43,529 824.55,527.7 830.66,539.2 836.78,533.6 842.9,505.3 849.02,505.3 855.13,512.1 861.25,512.5" fill="none" stroke="#7b70c4" stroke-width="1.1" stroke-linejoin="round"/>
<clipPath id="rsiLow"><rect x="0" y="541" width="1126" height="30"/></clipPath><clipPath id="rsiHigh"><rect x="0" y="441" width="1126" height="24.8"/></clipPath>
<polygon clip-path="url(#rsiLow)" points="-1.25,523 4.87,525.9 10.99,520.3 17.1,524.5 23.22,516.9 29.34,533.8 35.46,535.5 41.57,535.5 47.69,525.4 53.81,546 59.92,552 66.04,531.6 72.16,533 78.27,533 84.39,526.7 90.51,528.8 96.62,523.2 102.74,524.9 108.86,523.2 114.98,522 121.09,521.1 127.21,525.4 133.33,511.8 139.44,503.9 145.56,500 151.68,503.4 157.79,488.1 163.91,479.7 170.03,481.9 176.15,480.5 182.26,484.8 188.38,489.3 194.5,507.5 200.61,516.2 206.73,510.1 212.85,473.4 218.97,488.1 225.08,510.9 231.2,511.3 237.32,510.6 243.43,515.1 249.55,508.9 255.67,512.3 261.78,514.6 267.9,507.5 274.02,500.4 280.13,500.4 286.25,495.7 292.37,493.5 298.49,494.5 304.6,491.5 310.72,486 316.84,486.4 322.95,498.2 329.07,493.7 335.19,489.4 341.3,488.6 347.42,484.7 353.54,483.5 359.66,486.4 365.77,483.5 371.89,483.5 378.01,490.3 384.12,484.7 390.24,468.8 396.36,466.1 402.48,467.4 408.59,460.5 414.71,457.1 420.83,453.4 426.94,457.1 433.06,465.2 439.18,466.1 445.29,481.3 451.41,485 457.53,481.8 463.64,479.1 469.76,476.2 475.88,493.7 482,505.8 488.11,510.9 494.23,496.5 500.35,502.8 506.46,520.2 512.58,528.7 518.7,533.4 524.82,523.1 530.93,515.1 537.05,528.7 543.17,541.4 549.28,547 555.4,527 561.52,518.5 567.63,516.5 573.75,508 579.87,509.2 585.99,512.1 592.1,514.5 598.22,507.9 604.34,509.4 610.45,508.6 616.57,506 622.69,506.2 628.8,508.7 634.92,509.6 641.04,498.1 647.15,494.3 653.27,508.6 659.39,507.9 665.51,503.1 671.62,529.4 677.74,533.1 683.86,528.9 689.97,542.4 696.09,526 702.21,528.9 708.33,522.9 714.44,538.3 720.56,537.8 726.68,545.4 732.79,554.8 738.91,544.6 745.03,538.3 751.14,538.7 757.26,537.8 763.38,520.9 769.5,518.4 775.61,519.2 781.73,521.3 787.85,524.3 793.96,523.8 800.08,532.8 806.2,536.6 812.31,537 818.43,529 824.55,527.7 830.66,539.2 836.78,533.6 842.9,505.3 849.02,505.3 855.13,512.1 861.25,512.5 861,541 0,541" fill="#f23645" fill-opacity="0.10"/>
<polygon clip-path="url(#rsiHigh)" points="-1.25,523 4.87,525.9 10.99,520.3 17.1,524.5 23.22,516.9 29.34,533.8 35.46,535.5 41.57,535.5 47.69,525.4 53.81,546 59.92,552 66.04,531.6 72.16,533 78.27,533 84.39,526.7 90.51,528.8 96.62,523.2 102.74,524.9 108.86,523.2 114.98,522 121.09,521.1 127.21,525.4 133.33,511.8 139.44,503.9 145.56,500 151.68,503.4 157.79,488.1 163.91,479.7 170.03,481.9 176.15,480.5 182.26,484.8 188.38,489.3 194.5,507.5 200.61,516.2 206.73,510.1 212.85,473.4 218.97,488.1 225.08,510.9 231.2,511.3 237.32,510.6 243.43,515.1 249.55,508.9 255.67,512.3 261.78,514.6 267.9,507.5 274.02,500.4 280.13,500.4 286.25,495.7 292.37,493.5 298.49,494.5 304.6,491.5 310.72,486 316.84,486.4 322.95,498.2 329.07,493.7 335.19,489.4 341.3,488.6 347.42,484.7 353.54,483.5 359.66,486.4 365.77,483.5 371.89,483.5 378.01,490.3 384.12,484.7 390.24,468.8 396.36,466.1 402.48,467.4 408.59,460.5 414.71,457.1 420.83,453.4 426.94,457.1 433.06,465.2 439.18,466.1 445.29,481.3 451.41,485 457.53,481.8 463.64,479.1 469.76,476.2 475.88,493.7 482,505.8 488.11,510.9 494.23,496.5 500.35,502.8 506.46,520.2 512.58,528.7 518.7,533.4 524.82,523.1 530.93,515.1 537.05,528.7 543.17,541.4 549.28,547 555.4,527 561.52,518.5 567.63,516.5 573.75,508 579.87,509.2 585.99,512.1 592.1,514.5 598.22,507.9 604.34,509.4 610.45,508.6 616.57,506 622.69,506.2 628.8,508.7 634.92,509.6 641.04,498.1 647.15,494.3 653.27,508.6 659.39,507.9 665.51,503.1 671.62,529.4 677.74,533.1 683.86,528.9 689.97,542.4 696.09,526 702.21,528.9 708.33,522.9 714.44,538.3 720.56,537.8 726.68,545.4 732.79,554.8 738.91,544.6 745.03,538.3 751.14,538.7 757.26,537.8 763.38,520.9 769.5,518.4 775.61,519.2 781.73,521.3 787.85,524.3 793.96,523.8 800.08,532.8 806.2,536.6 812.31,537 818.43,529 824.55,527.7 830.66,539.2 836.78,533.6 842.9,505.3 849.02,505.3 855.13,512.1 861.25,512.5 861,465.8 0,465.8" fill="#4caf50" fill-opacity="0.10"/>
<rect x="3" y="63" width="930" height="24" fill="#fff" fill-opacity="0.56"/>
</g>
<g filter="url(#gs)">
<rect x="0" y="440" width="1200" height="1.1" fill="#555"/>
<circle cx="18.3" cy="7.3" r="5.6" fill="#12898f"/>
<path d="M15.9 5.6h4.8M18.3 5.6v3.6" stroke="#bfe9ea" stroke-width="1.1" fill="none"/>
<circle cx="11.9" cy="13.2" r="6.7" fill="#fff"/>
<circle cx="11.9" cy="13.2" r="5.9" fill="#f2992b"/>
<path d="M10.6 10.6v5.2M10.6 10.6h1.5a1.25 1.25 0 0 1 0 2.5h-1.5M10.6 13.1h1.8a1.35 1.35 0 0 1 0 2.7h-1.8" stroke="#fff" stroke-width="1" fill="none"/>
<text x="28.5" y="15.9" font-size="15" fill="#131313" textLength="46.9" lengthAdjust="spacingAndGlyphs" stroke="#131313" stroke-width="0.3">Bitcoin</text>
<text x="81.9" y="15.9" font-size="15" fill="#131313" textLength="4.7" lengthAdjust="spacingAndGlyphs" stroke="#131313" stroke-width="0.3">/</text>
<text x="93.75" y="15.9" font-size="15" fill="#131313" textLength="60.6" lengthAdjust="spacingAndGlyphs" stroke="#131313" stroke-width="0.3">TetherUS</text>
<text x="158.6" y="14.7" font-size="15" fill="#131313" stroke="#131313" stroke-width="0.3">·</text>
<text x="167.2" y="15.9" font-size="15" fill="#131313" textLength="7.5" lengthAdjust="spacingAndGlyphs" stroke="#131313" stroke-width="0.3">4</text>
<text x="174.4" y="16.6" font-size="14.5" fill="#131313" textLength="28.6" lengthAdjust="spacingAndGlyphs">시간</text>
<text x="207.4" y="14.7" font-size="15" fill="#131313" stroke="#131313" stroke-width="0.3">·</text>
<text x="216.2" y="15.9" font-size="15" fill="#131313" textLength="53.2" lengthAdjust="spacingAndGlyphs" stroke="#131313" stroke-width="0.3">Binance</text>
<text x="277.1" y="15.7" font-size="11.5" fill="#222" textLength="12.1" lengthAdjust="spacingAndGlyphs">시</text>
<text x="291" y="15.9" font-size="12" fill="#dd4964" textLength="60.5" lengthAdjust="spacingAndGlyphs" stroke="#dd4964" stroke-width="0.22">111,016.75</text>
<text x="357.4" y="15.8" font-size="11.5" fill="#222" textLength="11.9" lengthAdjust="spacingAndGlyphs">고</text>
<text x="370.6" y="15.9" font-size="12" fill="#dd4964" textLength="61.4" lengthAdjust="spacingAndGlyphs" stroke="#dd4964" stroke-width="0.22">111,705.56</text>
<text x="438" y="15.7" font-size="11.5" fill="#222" textLength="12.8" lengthAdjust="spacingAndGlyphs">저</text>
<text x="451.9" y="15.9" font-size="12" fill="#dd4964" textLength="60.6" lengthAdjust="spacingAndGlyphs" stroke="#dd4964" stroke-width="0.22">110,588.23</text>
<text x="518.8" y="15.6" font-size="11.5" fill="#222" textLength="11.8" lengthAdjust="spacingAndGlyphs">종</text>
<text x="532.75" y="15.9" font-size="12" fill="#dd4964" textLength="60.75" lengthAdjust="spacingAndGlyphs" stroke="#dd4964" stroke-width="0.22">111,144.55</text>
<text x="600" y="15.9" font-size="12" fill="#dd4964" textLength="43" lengthAdjust="spacingAndGlyphs" stroke="#dd4964" stroke-width="0.22">+127.80</text>
<text x="648" y="15.9" font-size="12" fill="#dd4964" textLength="47" lengthAdjust="spacingAndGlyphs" stroke="#dd4964" stroke-width="0.22">(+0.12%)</text>
<rect x="6.5" y="27" width="82.6" height="31.8" rx="4.5" fill="#fff" stroke="#e8626f" stroke-width="1.1"/>
<text x="16.9" y="40.9" font-size="12" fill="#e63c4e" font-weight="bold" textLength="61.6" lengthAdjust="spacingAndGlyphs">102,567.58</text>
<text x="42.6" y="52.3" font-size="10.4" fill="#e5485c" textLength="9.5" lengthAdjust="spacingAndGlyphs">셀</text>
<text x="97.4" y="46.5" font-size="10.8" fill="#2a2a2a" textLength="17.9" lengthAdjust="spacingAndGlyphs" stroke="#2a2a2a" stroke-width="0.25">0.01</text>
<rect x="124.4" y="27" width="82.8" height="31.8" rx="4.5" fill="#fff" stroke="#557fe8" stroke-width="1.1"/>
<text x="135.6" y="40.9" font-size="12" fill="#3564db" font-weight="bold" textLength="61.6" lengthAdjust="spacingAndGlyphs">102,567.59</text>
<text x="155.3" y="52.8" font-size="10.8" fill="#3f6ada" textLength="21.2" lengthAdjust="spacingAndGlyphs">바이</text>
<text x="6.7" y="80" font-size="12" fill="#b7b7b7" textLength="20.5" lengthAdjust="spacingAndGlyphs" stroke="#b7b7b7" stroke-width="0.22">Se...</text>
<text x="34" y="80" font-size="12" fill="#b7b7b7" textLength="38" lengthAdjust="spacingAndGlyphs" stroke="#b7b7b7" stroke-width="0.22">GMT+9</text>
<text x="78" y="80" font-size="12" fill="#b7b7b7" textLength="11.5" lengthAdjust="spacingAndGlyphs" stroke="#b7b7b7" stroke-width="0.22">10</text>
<text x="93.1" y="80.7" font-size="12.4" fill="#b7b7b7" textLength="59.2" lengthAdjust="spacingAndGlyphs">나의시간대</text>
<g clip-path="url(#legclip)">
<text x="156" y="80" font-size="12" fill="#b7b7b7" textLength="228.8" lengthAdjust="spacingAndGlyphs" stroke="#b7b7b7" stroke-width="0.22">1900-2330 × No × No × No × No New York</text>
<text x="388.5" y="80" font-size="12" fill="#b7b7b7" textLength="212.3" lengthAdjust="spacingAndGlyphs" stroke="#b7b7b7" stroke-width="0.22">1300-2200 × No × No × No × No Tokyo</text>
<text x="603" y="80" font-size="12" fill="#b7b7b7" textLength="216" lengthAdjust="spacingAndGlyphs" stroke="#b7b7b7" stroke-width="0.22">0000-0900 × No × No × No × No Sydney</text>
<text x="823.5" y="80" font-size="12" fill="#b7b7b7" textLength="117.5" lengthAdjust="spacingAndGlyphs" stroke="#b7b7b7" stroke-width="0.22">2000-0500 × No × No</text>
</g>
<g fill="none" stroke="#333" stroke-width="1.1" stroke-linecap="round"><path d="M936.5 75c1.6-3.8 4.5-5.7 7.6-5.7s6 1.9 7.6 5.7c-1.6 3.8-4.5 5.7-7.6 5.7s-6-1.9-7.6-5.7z"/><circle cx="944.1" cy="75" r="2.5"/><path d="M938.6 80.6l10.9-11.4" stroke="#fff" stroke-width="3"/><path d="M938.6 80.6l10.9-11.4"/></g>
<text x="6.2" y="104.1" font-size="12.2" fill="#1c1c1c" textLength="22.6" lengthAdjust="spacingAndGlyphs">볼륨</text>
<circle cx="35.9" cy="100.2" r="1.05" fill="#1c1c1c"/>
<text x="41.7" y="104.4" font-size="12.5" fill="#1c1c1c" textLength="21.6" lengthAdjust="spacingAndGlyphs" stroke="#1c1c1c" stroke-width="0.22">BTC</text>
<text x="71.7" y="104.4" font-size="12.5" fill="#dd4964" textLength="33.3" lengthAdjust="spacingAndGlyphs" stroke="#dd4964" stroke-width="0.22">3.01 K</text>
<rect x="6.5" y="113.6" width="26" height="18.2" rx="3" fill="#fff" fill-opacity="0.93" stroke="#e9eaee" stroke-width="1"/>
<path d="M15.6 125.6l3.95-3.9 3.95 3.9" fill="none" stroke="#1f1f1f" stroke-width="1.7"/>
<rect x="697.6" y="5" width="95.2" height="36" rx="6" fill="#000" fill-opacity="0.28" filter="url(#blur)"/>
<rect x="696.6" y="3" width="97.2" height="36.4" rx="5.5" fill="#1f1f22"/>
<rect x="704.9" y="15.3" width="1.4" height="1.4" fill="#5d5e66"/>
<rect x="704.9" y="20.5" width="1.4" height="1.4" fill="#5d5e66"/>
<rect x="704.9" y="25.6" width="1.4" height="1.4" fill="#5d5e66"/>
<rect x="710.55" y="15.3" width="1.4" height="1.4" fill="#5d5e66"/>
<rect x="710.55" y="20.5" width="1.4" height="1.4" fill="#5d5e66"/>
<rect x="710.55" y="25.6" width="1.4" height="1.4" fill="#5d5e66"/>
<g fill="none" stroke="#dcdcdc" stroke-width="1.05"><path d="M729 22.1h7.3M741.2 22.1h7.8"/><circle cx="738.75" cy="22.1" r="2.3"/><path d="M768.7 28.3l13.7-13.6"/><circle cx="767.1" cy="30" r="2.2"/><circle cx="784" cy="13.1" r="2.2"/></g>
<rect x="1071.6" y="-4" width="22.4" height="25" rx="3" fill="#fff" stroke="#ececee" stroke-width="1"/>
<rect x="1099.6" y="-4" width="21.8" height="25" rx="3" fill="#fff" stroke="#ececee" stroke-width="1"/>
<path d="M1083 5.4v8.2M1079.4 10.2l3.6 3.6 3.6-3.6" fill="none" stroke="#2b2b2b" stroke-width="1.2"/>
<path d="M1105 8.2v-1.4a2.2 2.2 0 0 1 2.2-2.2h6.2a2.2 2.2 0 0 1 2.2 2.2v1.4M1105 11.4v1.4a2.2 2.2 0 0 0 2.2 2.2h6.2a2.2 2.2 0 0 0 2.2-2.2v-1.4" fill="none" stroke="#2b2b2b" stroke-width="1.2"/>
<text x="531.9" y="345.2" font-size="13" fill="#3364d6" textLength="60.9" lengthAdjust="spacingAndGlyphs" stroke="#3364d6" stroke-width="0.25">101939.14</text>
<text x="1134.6" y="9.2" font-size="11.5" fill="#bdbdbd" textLength="57" lengthAdjust="spacingAndGlyphs" stroke="#bdbdbd" stroke-width="0.22">118,000.00</text>
<text x="1134.6" y="51.1" font-size="11.5" fill="#bdbdbd" textLength="57" lengthAdjust="spacingAndGlyphs" stroke="#bdbdbd" stroke-width="0.22">116,000.00</text>
<text x="1134.6" y="92.2" font-size="11.5" fill="#bdbdbd" textLength="57" lengthAdjust="spacingAndGlyphs" stroke="#bdbdbd" stroke-width="0.22">114,000.00</text>
<text x="1134.6" y="176.6" font-size="11.5" fill="#bdbdbd" textLength="57" lengthAdjust="spacingAndGlyphs" stroke="#bdbdbd" stroke-width="0.22">110,000.00</text>
<text x="1134.6" y="217.8" font-size="11.5" fill="#bdbdbd" textLength="57" lengthAdjust="spacingAndGlyphs" stroke="#bdbdbd" stroke-width="0.22">108,000.00</text>
<text x="1134.6" y="260.4" font-size="11.5" fill="#bdbdbd" textLength="57" lengthAdjust="spacingAndGlyphs" stroke="#bdbdbd" stroke-width="0.22">106,000.00</text>
<text x="1134.6" y="302.2" font-size="11.5" fill="#bdbdbd" textLength="57" lengthAdjust="spacingAndGlyphs" stroke="#bdbdbd" stroke-width="0.22">104,000.00</text>
<text x="1134.6" y="385" font-size="11.5" fill="#bdbdbd" textLength="57" lengthAdjust="spacingAndGlyphs" stroke="#bdbdbd" stroke-width="0.22">100,000.00</text>
<text x="1134.6" y="426.2" font-size="11.5" fill="#bdbdbd" textLength="51.2" lengthAdjust="spacingAndGlyphs" stroke="#bdbdbd" stroke-width="0.22">98,000.00</text>
<text x="1134.6" y="451.4" font-size="11.5" fill="#bdbdbd" textLength="28.5" lengthAdjust="spacingAndGlyphs" stroke="#bdbdbd" stroke-width="0.22">80.00</text>
<text x="1134.6" y="488.5" font-size="11.5" fill="#bdbdbd" textLength="28.5" lengthAdjust="spacingAndGlyphs" stroke="#bdbdbd" stroke-width="0.22">60.00</text>
<text x="1134.6" y="564.2" font-size="11.5" fill="#bdbdbd" textLength="28.5" lengthAdjust="spacingAndGlyphs" stroke="#bdbdbd" stroke-width="0.22">20.00</text>
<rect x="1105" y="115" width="92.3" height="20" rx="2.5" fill="#121212"/>
<rect x="1125.2" y="115" width="0.9" height="20" fill="#6a6a6a"/>
<g fill="none" stroke="#fff" stroke-width="1"><circle cx="1115.25" cy="125.2" r="6.4"/><path d="M1111.6 125.2h7.3M1115.25 121.5v7.4"/></g>
<text x="1136" y="129.7" font-size="11.4" fill="#fff" font-weight="bold" textLength="56.5" lengthAdjust="spacingAndGlyphs">112,305.14</text>
<rect x="1126" y="279.4" width="71" height="16.3" rx="1.5" fill="#050505"/>
<text x="1136.2" y="291.7" font-size="11.4" fill="#fff" font-weight="bold" textLength="55.2" lengthAdjust="spacingAndGlyphs">104,529.41</text>
<rect x="1126" y="320" width="71.3" height="32" rx="2" fill="#2962ff"/>
<text x="1136" y="332.2" font-size="11.4" fill="#fff" font-weight="bold" textLength="56.2" lengthAdjust="spacingAndGlyphs">102,567.59</text>
<text x="1135.4" y="346.2" font-size="11.4" fill="#d6e0ff" textLength="44.6" lengthAdjust="spacingAndGlyphs" stroke="#d6e0ff" stroke-width="0.22">02:47:20</text>
<rect x="1126" y="351.3" width="71.3" height="15.3" rx="1.5" fill="#050505"/>
<text x="1136" y="363" font-size="11.4" fill="#fff" font-weight="bold" textLength="56.2" lengthAdjust="spacingAndGlyphs">101,939.14</text>
<rect x="1126" y="424" width="31.6" height="16.4" fill="#2962ff"/>
<text x="1135.4" y="436.7" font-size="11.4" fill="#fff" font-weight="bold" textLength="17.8" lengthAdjust="spacingAndGlyphs">686</text>
<rect x="1126" y="504.2" width="41.8" height="16.3" rx="1.5" fill="#7e57c2"/>
<text x="1135.4" y="516.6" font-size="11.4" fill="#fff" font-weight="bold" textLength="28" lengthAdjust="spacingAndGlyphs">45.06</text>
<rect x="1126" y="520.5" width="41.8" height="16.5" rx="1.5" fill="#fbd731"/>
<text x="1135.4" y="533.1" font-size="11.4" fill="#2a2200" font-weight="bold" textLength="28" lengthAdjust="spacingAndGlyphs">38.71</text>
<circle cx="861.6" cy="427.6" r="9.3" fill="#fff" fill-opacity="0.85" stroke="#a43fd6" stroke-width="1.3"/>
<path d="M863.6 421.8l-5.4 6.4h3.2l-1.6 5.4 5.6-6.9h-3.3z" fill="#a43fd6"/>
<circle cx="868.1" cy="421.2" r="2.7" fill="#e8404f" stroke="#fff" stroke-width="0.8"/>
<rect x="3" y="446" width="148" height="23" fill="#fff" fill-opacity="0.7"/>
<text x="6.8" y="461.5" font-size="12.4" fill="#1f1f1f" textLength="15.2" lengthAdjust="spacingAndGlyphs" stroke="#1f1f1f" stroke-width="0.35">RSI</text>
<text x="27.4" y="461.5" font-size="12.4" fill="#707070" textLength="44.5" lengthAdjust="spacingAndGlyphs" stroke="#707070" stroke-width="0.22">14 close</text>
<text x="79.5" y="461.5" font-size="12.4" fill="#8b8bd6" textLength="29.6" lengthAdjust="spacingAndGlyphs" stroke="#8b8bd6" stroke-width="0.22">61.81</text>
<text x="115.9" y="461.5" font-size="12.4" fill="#f2d55a" textLength="30.5" lengthAdjust="spacingAndGlyphs" stroke="#f2d55a" stroke-width="0.22">48.11</text>
<g stroke="#fff" stroke-width="7" stroke-linejoin="round" fill="#fff"><g transform="translate(9.2 534.5) scale(0.805 0.79)"><path d="M14 22H7V11H0V4h14v18zM28 22h-8l7.5-18h8L28 22z"/><circle cx="20" cy="8" r="4"/></g><text x="45.3" y="551.6" font-size="18.8" fill="#fff" font-weight="bold" textLength="116.2" lengthAdjust="spacingAndGlyphs">TradingView</text></g>
<g fill="#141414"><g transform="translate(9.2 534.5) scale(0.805 0.79)"><path d="M14 22H7V11H0V4h14v18zM28 22h-8l7.5-18h8L28 22z"/><circle cx="20" cy="8" r="4"/></g><text x="45.3" y="551.6" font-size="18.8" fill="#141414" font-weight="bold" textLength="116.2" lengthAdjust="spacingAndGlyphs">TradingView</text></g>
<text x="35.46" y="583.7" font-size="11.6" fill="#b9b9b9" text-anchor="middle" stroke="#b9b9b9" stroke-width="0.22">17</text>
<text x="108.86" y="583.7" font-size="11.6" fill="#b9b9b9" text-anchor="middle" stroke="#b9b9b9" stroke-width="0.22">19</text>
<text x="182.26" y="583.7" font-size="11.6" fill="#b9b9b9" text-anchor="middle" stroke="#b9b9b9" stroke-width="0.22">21</text>
<text x="255.67" y="583.7" font-size="11.6" fill="#b9b9b9" text-anchor="middle" stroke="#b9b9b9" stroke-width="0.22">23</text>
<text x="329.07" y="583.7" font-size="11.6" fill="#b9b9b9" text-anchor="middle" stroke="#b9b9b9" stroke-width="0.22">25</text>
<text x="402.48" y="583.7" font-size="11.6" fill="#b9b9b9" text-anchor="middle" stroke="#b9b9b9" stroke-width="0.22">27</text>
<text x="475.88" y="583.7" font-size="11.6" fill="#b9b9b9" text-anchor="middle" stroke="#b9b9b9" stroke-width="0.22">29</text>
<text x="659.39" y="583.7" font-size="11.6" fill="#b9b9b9" text-anchor="middle" stroke="#b9b9b9" stroke-width="0.22">3</text>
<text x="732.79" y="583.7" font-size="11.6" fill="#b9b9b9" text-anchor="middle" stroke="#b9b9b9" stroke-width="0.22">5</text>
<text x="806.2" y="583.7" font-size="11.6" fill="#b9b9b9" text-anchor="middle" stroke="#b9b9b9" stroke-width="0.22">7</text>
<text x="879.6" y="583.7" font-size="11.6" fill="#b9b9b9" text-anchor="middle" stroke="#b9b9b9" stroke-width="0.22">9</text>
<text x="953" y="583.7" font-size="11.6" fill="#b9b9b9" text-anchor="middle" stroke="#b9b9b9" stroke-width="0.22">11</text>
<text x="1026.41" y="583.7" font-size="11.6" fill="#b9b9b9" text-anchor="middle" stroke="#b9b9b9" stroke-width="0.22">13</text>
<text x="1099.81" y="583.7" font-size="11.6" fill="#b9b9b9" text-anchor="middle" stroke="#b9b9b9" stroke-width="0.22">15</text>
<text x="574.6" y="583.7" font-size="11.6" fill="#a6a6a6" font-weight="bold" textLength="12.4" lengthAdjust="spacingAndGlyphs">11</text>
<text x="586.5" y="583.8" font-size="12" fill="#a6a6a6" font-weight="bold" textLength="11" lengthAdjust="spacingAndGlyphs">월</text>
<rect x="111.9" y="566" width="127.5" height="22.5" rx="2.5" fill="#121212"/>
<text x="120.2" y="583.4" font-size="11.8" fill="#fff" font-weight="bold" textLength="11.2" lengthAdjust="spacingAndGlyphs">월</text>
<text x="134.75" y="583" font-size="11.8" fill="#fff" font-weight="bold" textLength="57.2" lengthAdjust="spacingAndGlyphs">2025-10-20</text>
<text x="202.5" y="583" font-size="11.8" fill="#fff" font-weight="bold" textLength="28.8" lengthAdjust="spacingAndGlyphs">21:00</text>
<g fill="none" stroke="#1f1f1f" stroke-width="1.2"><path d="M1156.6 580l3.4-5.9h6.8l3.4 5.9-3.4 5.9h-6.8z"/><circle cx="1163.4" cy="580" r="1.9"/></g>
</g>
</svg>
</div>
</body>
</html>
